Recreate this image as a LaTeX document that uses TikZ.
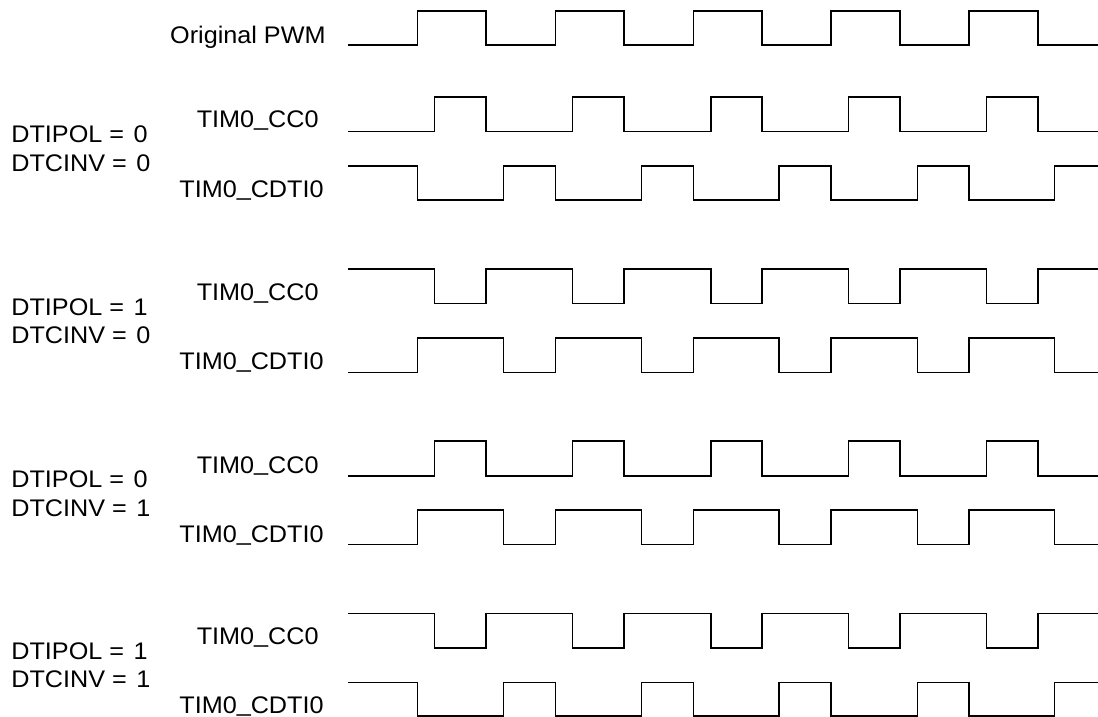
\documentclass[tikz,border=0pt]{standalone}
\usepackage{fontspec}
\setmainfont{Liberation Sans}[FakeStretch=1.05]
\newcommand\pwmwave[3]{\draw[sig] (348,#1) \foreach \a/\b in #3 { -- (\a,#1) -- (\a,#2) -- (\b,#2) -- (\b,#1)} -- (1098,#1);}
\newcommand\usc{\raisebox{0.09em}{\_}}
\def\lorig{417.5/486,555.5/624,693.5/762,831/900,969/1038}
\def\lcc{434.5/486,572.5/624,711/762,848.5/900,986.5/1038}
\def\ldti{417.5/503.5,555.5/641.5,693.5/779,831/917.5,969/1054.5}
\begin{document}
\begin{tikzpicture}[x=0.5pt,y=-0.5pt,
  sig/.style={line width=0.9pt,line join=miter,black},
  lbl/.style={inner sep=0pt,font=\fontsize{12}{14}\selectfont},
  rlbl/.style={lbl,anchor=base east},
  llbl/.style={lbl,anchor=base west}]
\fill[white] (0,0) rectangle (1098,717);
\useasboundingbox (0,0) rectangle (1098,717);
% labels
\node[rlbl] (orig) at (326,43.3) {Original PWM};
\foreach \g/\dy/\p/\v in {1/0/0/0,2/172.5/1/0,3/345/0/1,4/516.5/1/1}{
  \node[rlbl] (cc\g) at (319,128+\dy) {TIM0\usc CC0};
  \node[rlbl] (dt\g) at (324,197.3+\dy) {TIM0\usc CDTI0};
  \node[llbl] (pol\g) at (11,142.7+\dy) {DTIPOL =\hspace{0.4em}\p};
  \node[llbl] (inv\g) at (11,171.3+\dy) {DTCINV =\hspace{0.4em}\v};
}
% waveforms
\pwmwave{45}{11}{\lorig}
\pwmwave{131.5}{97}{\lcc}
\pwmwave{166}{200}{\ldti}
\pwmwave{269}{303.5}{\lcc}
\pwmwave{372.5}{338}{\ldti}
\pwmwave{476}{441}{\lcc}
\pwmwave{544.5}{510}{\ldti}
\pwmwave{613.5}{648}{\lcc}
\pwmwave{682.5}{716}{\ldti}
\end{tikzpicture}
\end{document}
